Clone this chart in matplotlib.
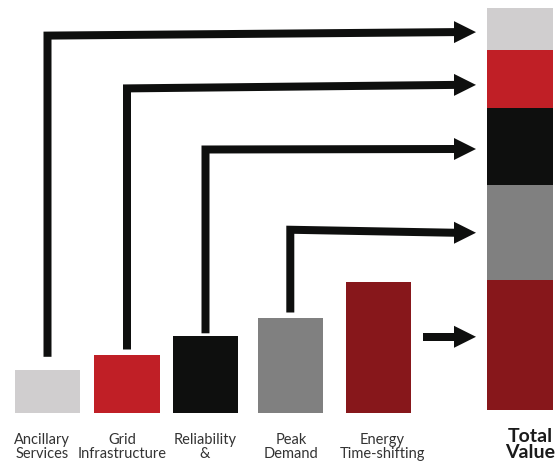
import matplotlib
matplotlib.use("Agg")
import matplotlib.pyplot as plt
from matplotlib.patches import Polygon

# ---- data ----
categories = ["Ancillary Services", "Grid Infrastructure", "Reliability &", "Peak Demand", "Energy Time-shifting"]
label_lines = [["Ancillary", "Services"], ["Grid", "Infrastructure"], ["Reliability", "&"],
               ["Peak", "Demand"], ["Energy", "Time-shifting"]]
values = [42.4, 58.2, 76.4, 94.7, 130.4]
total_label = ["Total", "Value"]

# ---- style ----
colors = ["#D0CECF", "#C01F26", "#0E0F0E", "#808080", "#87171B"]
text_color = "#333333"
W, H = 556, 462
base_px = 412.7                     # pixel row of the baseline
bar_centers = [47.5, 127.0, 205.5, 290.3, 378.5]
bar_width = 65.6
total_center = 520.3
total_base = 2.7
label_x = [42.0, 122.3, 204.8, 291.0, 382.3]
gaps = [13.5, 5.0, 3.0, 5.5]        # gap between bar top and arrow start
nudges = [-3.0, -5.5, -2.3, -0.5, 8.0]
slants = [-3.5, -3.5, -0.5, 3.0]     # left end offset of horizontal arm
tip_x = 476.0
head_len = 22.0
head_half = 11.0
shaft_px = 8.0
energy_arrow_start = 422.7

fig = plt.figure(figsize=(W / 100, H / 100), dpi=100)
ax = fig.add_axes([0, 0, 1, 1])
ax.set_xlim(0, W)
ax.set_ylim(-(H - base_px), base_px)
ax.axis("off")

# individual bars
ax.bar(bar_centers, values, width=bar_width, color=colors, linewidth=0, zorder=2)

# stacked total bar: energy at bottom, ancillary at top
order = [4, 3, 2, 1, 0]
bottom = total_base
seg_center = {}
for i in order:
    ax.bar([total_center], [values[i]], bottom=bottom, width=bar_width,
           color=colors[i], linewidth=0, zorder=2)
    seg_center[i] = bottom + values[i] / 2
    bottom += values[i]

lw = shaft_px * 72 / 100


def head(y):
    ax.add_patch(Polygon([(tip_x - head_len, y + head_half), (tip_x, y),
                          (tip_x - head_len, y - head_half)], closed=True,
                         facecolor="#0E0F0E", edgecolor="none", zorder=3))


# elbow arrows
for i in range(4):
    y = seg_center[i] + nudges[i]
    x = bar_centers[i]
    ax.plot([x, x, tip_x - head_len + 0.5],
            [values[i] + gaps[i], y + slants[i], y],
            color="#0E0F0E", lw=lw, solid_joinstyle="miter",
            solid_capstyle="butt", zorder=3)
    head(y)

# straight arrow for energy
ye = seg_center[4] + nudges[4]
ax.plot([energy_arrow_start, tip_x - head_len + 0.5], [ye, ye], color="#0E0F0E",
        lw=lw, solid_capstyle="butt", zorder=3)
head(ye)

# labels
def py(p):
    return base_px - p

for lx, lines in zip(label_x, label_lines):
    ax.text(lx, py(457.7), "\n".join(lines), ha="center", va="baseline",
            fontsize=10.5, family="Lato", color=text_color,
            linespacing=0.94, multialignment="center")

ax.text(530.5, py(457.5), "\n".join(total_label), ha="center", va="baseline",
        fontsize=14, family="Lato", fontweight="bold", color="#1a1a1a",
        linespacing=0.9, multialignment="center")

fig.savefig("out.png", dpi=100)
